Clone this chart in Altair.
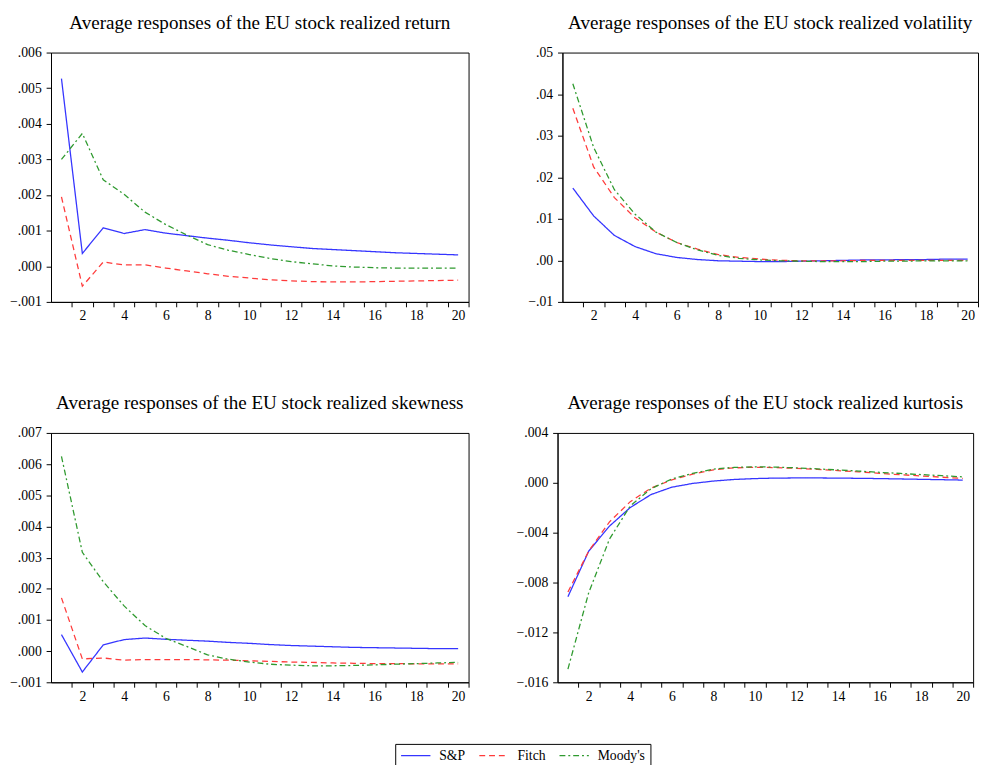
import altair as alt
import pandas as pd

periods = list(range(1, 21))
series_names = ["S&P", "Fitch", "Moody's"]

# Panel 1: realized return
ret_sp = [0.00527, 0.00036, 0.00108, 0.00092, 0.00103, 0.00093, 0.00086, 0.00079, 0.00073,
          0.00066, 0.00060, 0.00055, 0.00050, 0.00047, 0.00044, 0.00041, 0.00038, 0.00036,
          0.00034, 0.00032]
ret_fitch = [0.00195, -0.00056, 0.00012, 0.00004, 0.00004, -0.00005, -0.00013, -0.00021,
             -0.00028, -0.00033, -0.00038, -0.00041, -0.00043, -0.00044, -0.00044, -0.00043,
             -0.00042, -0.00041, -0.00040, -0.00039]
ret_moodys = [0.00300, 0.00373, 0.00243, 0.00202, 0.00152, 0.00117, 0.00088, 0.00061,
              0.00045, 0.00033, 0.00022, 0.00013, 0.00007, 0.00001, -0.00002, -0.00004,
              -0.00005, -0.00005, -0.00005, -0.00005]

# Panel 2: realized volatility
vol_sp = [0.0174, 0.0107, 0.0060, 0.0033, 0.0016, 0.0007, 0.0002, -0.0001, -0.0002, -0.0003,
          -0.0003, -0.0002, -0.0001, 0.0000, 0.0001, 0.0001, 0.0002, 0.0002, 0.0003, 0.0003]
vol_fitch = [0.0366, 0.0225, 0.0151, 0.0102, 0.0068, 0.0043, 0.0027, 0.0014, 0.0007, 0.0003,
             0.0000, -0.0001, -0.0001, -0.0001, 0.0000, 0.0000, 0.0000, 0.0000, 0.0000, 0.0000]
vol_moodys = [0.0425, 0.0272, 0.0170, 0.0111, 0.0068, 0.0043, 0.0025, 0.0012, 0.0005, 0.0001,
              -0.0001, -0.0002, -0.0003, -0.0003, -0.0003, -0.0002, -0.0002, -0.0001, -0.0001,
              -0.0001]

# Panel 3: realized skewness
skew_sp = [0.00053, -0.00067, 0.00020, 0.00037, 0.00042, 0.00038, 0.00035, 0.00032, 0.00028,
           0.00025, 0.00021, 0.00018, 0.00016, 0.00014, 0.00012, 0.00011, 0.00010, 0.00009,
           0.00008, 0.00008]
skew_fitch = [0.00171, -0.00025, -0.00022, -0.00029, -0.00027, -0.00027, -0.00027, -0.00028,
              -0.00029, -0.00031, -0.00033, -0.00035, -0.00036, -0.00038, -0.00039, -0.00040,
              -0.00040, -0.00041, -0.00041, -0.00041]
skew_moodys = [0.00625, 0.00317, 0.00223, 0.00145, 0.00082, 0.00041, 0.00015, -0.00012,
               -0.00026, -0.00035, -0.00042, -0.00045, -0.00047, -0.00047, -0.00046, -0.00044,
               -0.00042, -0.00040, -0.00038, -0.00036]

# Panel 4: realized kurtosis
kurt_sp = [-0.00913, -0.00548, -0.00347, -0.00198, -0.00094, -0.00035, -0.00005, 0.00014,
           0.00027, 0.00034, 0.00038, 0.00039, 0.00039, 0.00038, 0.00036, 0.00034, 0.00031,
           0.00028, 0.00025, 0.00022]
kurt_fitch = [-0.00876, -0.00548, -0.00313, -0.00151, -0.00042, 0.00023, 0.00070, 0.00104,
              0.00120, 0.00125, 0.00122, 0.00116, 0.00108, 0.00098, 0.00088, 0.00076, 0.00065,
              0.00055, 0.00045, 0.00035]
kurt_moodys = [-0.01494, -0.00881, -0.00451, -0.00185, -0.00047, 0.00031, 0.00076, 0.00110,
               0.00124, 0.00128, 0.00126, 0.00120, 0.00112, 0.00103, 0.00094, 0.00084, 0.00075,
               0.00066, 0.00057, 0.00048]

titles = [
    "Average responses of the EU stock realized return",
    "Average responses of the EU stock realized volatility",
    "Average responses of the EU stock realized skewness",
    "Average responses of the EU stock realized kurtosis",
]
ret_ticks = [-0.001, 0.0, 0.001, 0.002, 0.003, 0.004, 0.005, 0.006]
vol_ticks = [-0.01, 0.0, 0.01, 0.02, 0.03, 0.04, 0.05]
skew_ticks = [-0.001, 0.0, 0.001, 0.002, 0.003, 0.004, 0.005, 0.006, 0.007]
kurt_ticks = [-0.016, -0.012, -0.008, -0.004, 0.0, 0.004]

colors = ["#3535FF", "#FF3B3B", "#2F9A2F"]
dashes = [[1, 0], [6, 4], [6, 3, 2, 3]]

FONT = "Liberation Serif"
W, H = 427, 255


def make_df(sp, fi, mo):
    rows = []
    for name, vals in zip(series_names, [sp, fi, mo]):
        for p, v in zip(periods, vals):
            rows.append({"period": p, "value": v, "series": name})
    return pd.DataFrame(rows)


def panel(title, sp, fi, mo, ticks, decimals, width):
    df = make_df(sp, fi, mo)
    legend = alt.Legend(
        title=None, orient="none", legendX=352, legendY=707, direction="horizontal",
        symbolType="M-1.2,0H4.8", symbolSize=100, symbolStrokeWidth=1.5,
        labelFont=FONT, labelFontSize=14, labelColor="black",
        strokeColor="black", padding=5, columnPadding=11, labelOffset=26,
        fillColor="white",
    )
    half = width / 40.0
    return alt.Chart(df, title=alt.TitleParams(
        title, font=FONT, fontSize=19.5, fontWeight="normal", color="black",
        anchor="middle", offset=13)).mark_line(strokeWidth=1.3).encode(
        x=alt.X("period:Q", scale=alt.Scale(domain=[0.5, 20.5], nice=False, zero=False),
                axis=alt.Axis(values=periods, tickOffset=half, labelOffset=-half, title=None,
                              labelExpr="datum.value % 2 === 0 ? '' + datum.value : ''",
                              labelOverlap=False, grid=False, tickSize=5, labelPadding=2.5,
                              minExtent=22, maxExtent=22)),
        y=alt.Y("value:Q", scale=alt.Scale(domain=[ticks[0], ticks[-1]], nice=False, zero=False),
                axis=alt.Axis(values=ticks, title=None, grid=False, tickSize=5,
                              labelExpr="replace(format(datum.value, '.%df'), '0.', '.')" % decimals,
                              minExtent=40, maxExtent=40, labelPadding=5)),
        color=alt.Color("series:N", scale=alt.Scale(domain=series_names, range=colors),
                        sort=series_names, legend=legend),
        strokeDash=alt.StrokeDash("series:N", scale=alt.Scale(domain=series_names, range=dashes),
                                  sort=series_names, legend=legend),
    ).properties(width=width, height=H)


p1 = panel(titles[0], ret_sp, ret_fitch, ret_moodys, ret_ticks, 3, W)
p2 = panel(titles[1], vol_sp, vol_fitch, vol_moodys, vol_ticks, 2, 425)
p3 = panel(titles[2], skew_sp, skew_fitch, skew_moodys, skew_ticks, 3, W)
p4 = panel(titles[3], kurt_sp, kurt_fitch, kurt_moodys, kurt_ticks, 3, 425)

chart = alt.vconcat(
    alt.hconcat(p1, p2, spacing=54),
    alt.hconcat(p3, p4, spacing=47),
    spacing=70,
).properties(padding={"top": -4, "left": 1, "right": 0, "bottom": -12}).configure(
    background="white"
).configure_view(
    stroke="black", strokeWidth=1
).configure_axis(
    domainColor="black", tickColor="black", labelColor="black",
    labelFont=FONT, labelFontSize=14, domainWidth=1, tickWidth=1,
)

chart.save("out.html", embed_options={"renderer": "svg", "actions": False})
